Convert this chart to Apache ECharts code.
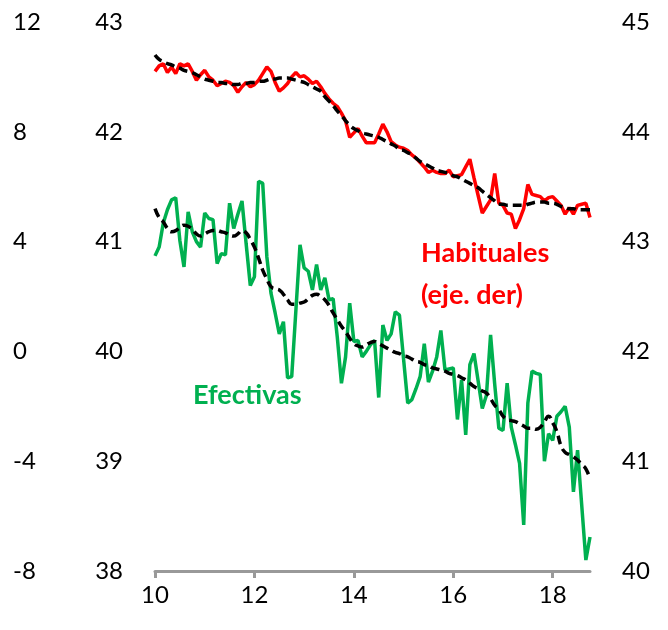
<!DOCTYPE html>
<html>
<head>
<meta charset="utf-8">
<script src="https://cdn.jsdelivr.net/npm/echarts@6/dist/echarts.min.js"></script>
<style>
  html, body { margin: 0; padding: 0; background: #fff; }
  #chart { width: 668px; height: 630px; }
</style>
</head>
<body>
<div id="chart"></div>
<script>
  // monthly data, Jan 2010 onwards
  var startYear = 2010;

  // horas efectivas (eje izq. 38-43)
  var efectivas = [
    40.87, 40.95, 41.17, 41.29, 41.38, 41.40, 41.01, 40.77, 41.27, 41.09,
    41.00, 40.95, 41.26, 41.21, 41.20, 40.80, 40.89, 40.88, 41.35, 41.12,
    41.25, 41.37, 40.98, 40.60, 40.68, 41.55, 41.53, 40.86, 40.53, 40.35,
    40.16, 40.27, 39.76, 39.77, 40.37, 40.97, 40.76, 40.73, 40.56, 40.79,
    40.56, 40.67, 40.47, 40.48, 40.13, 39.71, 39.95, 40.44, 40.09, 40.10,
    39.95, 40.00, 40.06, 40.10, 39.58, 40.24, 40.10, 40.16, 40.36, 40.33,
    39.93, 39.53, 39.56, 39.66, 39.77, 40.07, 39.72, 39.82, 39.95, 40.19,
    39.83, 39.84, 39.85, 39.38, 39.74, 39.24, 39.88, 39.98, 39.73, 39.48,
    39.60, 40.15, 39.70, 39.30, 39.28, 39.71, 39.31, 39.15, 38.98, 38.42,
    39.53, 39.82, 39.80, 39.79, 39.00, 39.25, 39.19, 39.41, 39.45, 39.50,
    39.31, 38.72, 39.10, 38.60, 38.10, 38.31
  ];
  var efectivasTend = [
    41.30, 41.22, 41.18, 41.12, 41.09, 41.10, 41.13, 41.15, 41.14, 41.11,
    41.07, 41.05, 41.07, 41.09, 41.10, 41.10, 41.09, 41.08, 41.06, 41.05,
    41.07, 41.10, 41.08, 41.02, 40.95, 40.85, 40.74, 40.66, 40.59, 40.57,
    40.56, 40.52, 40.47, 40.43, 40.43, 40.44, 40.45, 40.48, 40.51, 40.52,
    40.50, 40.47, 40.42, 40.35, 40.29, 40.23, 40.18, 40.12, 40.07, 40.05,
    40.04, 40.06, 40.08, 40.09, 40.07, 40.05, 40.03, 40.01, 39.99, 39.98,
    39.96, 39.95, 39.93, 39.91, 39.90, 39.88, 39.87, 39.85, 39.84, 39.83,
    39.82, 39.80, 39.79, 39.78, 39.76, 39.74, 39.71, 39.68, 39.66, 39.64,
    39.62, 39.57, 39.51, 39.47, 39.41, 39.38, 39.37, 39.36, 39.34, 39.32,
    39.30, 39.30, 39.29, 39.31, 39.36, 39.41, 39.35, 39.27, 39.14, 39.08,
    39.06, 39.04, 39.01, 38.97, 38.93, 38.84
  ];

  // horas habituales (eje der. 40-45)
  var habituales = [
    44.55, 44.60, 44.62, 44.54, 44.59, 44.53, 44.62, 44.60, 44.62, 44.55,
    44.47, 44.52, 44.56, 44.50, 44.47, 44.42, 44.44, 44.46, 44.45, 44.42,
    44.36, 44.41, 44.45, 44.41, 44.43, 44.47, 44.53, 44.59, 44.55, 44.45,
    44.37, 44.40, 44.44, 44.50, 44.54, 44.50, 44.51, 44.48, 44.44, 44.46,
    44.41, 44.35, 44.30, 44.26, 44.23, 44.17, 44.10, 43.95, 43.99, 44.03,
    43.96, 43.90, 43.90, 43.90, 43.98, 44.07, 44.00, 43.91, 43.88, 43.86,
    43.85, 43.83, 43.79, 43.76, 43.72, 43.68, 43.63, 43.65, 43.63, 43.62,
    43.62, 43.65, 43.59, 43.60, 43.61, 43.68, 43.75, 43.58, 43.42, 43.26,
    43.32, 43.38, 43.62, 43.35, 43.33, 43.26, 43.25, 43.12, 43.20, 43.30,
    43.52, 43.43, 43.42, 43.41, 43.37, 43.40, 43.41, 43.37, 43.33, 43.25,
    43.31, 43.25, 43.33, 43.34, 43.35, 43.22
  ];
  var habitualesTend = [
    44.70, 44.66, 44.64, 44.62, 44.61, 44.59, 44.58, 44.56, 44.55, 44.54,
    44.52, 44.50, 44.48, 44.47, 44.46, 44.45, 44.45, 44.44, 44.44, 44.43,
    44.43, 44.44, 44.44, 44.45, 44.45, 44.46, 44.46, 44.47, 44.48, 44.48,
    44.49, 44.49, 44.49, 44.48, 44.47, 44.46, 44.45, 44.43, 44.41, 44.39,
    44.37, 44.32, 44.28, 44.24, 44.19, 44.15, 44.10, 44.06, 44.03, 44.01,
    43.99, 43.98, 43.97, 43.96, 43.95, 43.93, 43.91, 43.89, 43.87, 43.84,
    43.83, 43.81, 43.79, 43.76, 43.73, 43.71, 43.69, 43.67, 43.65, 43.64,
    43.63, 43.62, 43.60, 43.59, 43.57, 43.55, 43.53, 43.51, 43.49, 43.46,
    43.43, 43.40, 43.37, 43.34, 43.34, 43.33, 43.33, 43.33, 43.33, 43.33,
    43.34, 43.35, 43.36, 43.36, 43.36, 43.35, 43.35, 43.34, 43.32, 43.31,
    43.30, 43.30, 43.29, 43.29, 43.29, 43.29
  ];

  var xTickLabels = ['10', '12', '14', '16', '18'];

  function toPairs(arr) {
    return arr.map(function (v, i) { return [startYear + i / 12, v]; });
  }

  var font = 'Lato, "Open Sans", sans-serif';
  var chart = echarts.init(document.getElementById('chart'));

  chart.setOption({
    animation: false,
    backgroundColor: '#fff',
    grid: { left: 155, right: 78, top: 22, bottom: 59 },
    xAxis: {
      type: 'value',
      min: startYear,
      max: startYear + (efectivas.length - 1) / 12,
      interval: 2,
      splitLine: { show: false },
      axisLine: { onZero: false, lineStyle: { color: '#999', width: 3 } },
      axisTick: { show: true, length: 7, lineStyle: { color: '#999', width: 3 } },
      axisLabel: {
        color: '#000', fontSize: 24, fontFamily: font, margin: 12,
        showMaxLabel: false,
        formatter: function (v) { return xTickLabels[(v - startYear) / 2] || ''; }
      }
    },
    yAxis: [
      {
        type: 'value', position: 'left', min: 38, max: 43, interval: 1,
        splitLine: { show: false }, axisLine: { show: false }, axisTick: { show: false },
        axisLabel: { color: '#000', fontSize: 24, fontFamily: font, margin: 32 }
      },
      {
        type: 'value', position: 'right', min: 40, max: 45, interval: 1,
        splitLine: { show: false }, axisLine: { show: false }, axisTick: { show: false },
        axisLabel: { color: '#000', fontSize: 24, fontFamily: font, margin: 32, align: 'left' }
      },
      {
        type: 'value', position: 'left', min: -8, max: 12, interval: 4,
        splitLine: { show: false }, axisLine: { show: false }, axisTick: { show: false },
        axisLabel: { color: '#000', fontSize: 24, fontFamily: font, margin: 142, align: 'left' }
      }
    ],
    series: [
      {
        name: 'Efectivas', type: 'line', yAxisIndex: 0, data: toPairs(efectivas),
        showSymbol: false, lineStyle: { color: '#00b050', width: 3.5 }
      },
      {
        name: 'Habituales', type: 'line', yAxisIndex: 1, data: toPairs(habituales),
        showSymbol: false, lineStyle: { color: '#ff0000', width: 3.5 }
      },
      {
        name: 'Efectivas tendencia', type: 'line', yAxisIndex: 0, data: toPairs(efectivasTend),
        showSymbol: false, smooth: true,
        lineStyle: { color: '#000', width: 3.5, type: [9, 5] }
      },
      {
        name: 'Habituales tendencia', type: 'line', yAxisIndex: 1, data: toPairs(habitualesTend),
        showSymbol: false, smooth: true,
        lineStyle: { color: '#000', width: 3.5, type: [9, 5] }
      }
    ],
    graphic: [
      {
        type: 'text', left: 421, top: 240,
        style: { text: 'Habituales', fill: '#ff0000', font: 'bold 27px ' + font }
      },
      {
        type: 'text', left: 421, top: 282,
        style: { text: '(eje. der)', fill: '#ff0000', font: 'bold 27px ' + font }
      },
      {
        type: 'text', left: 193, top: 382,
        style: { text: 'Efectivas', fill: '#00b050', font: 'bold 27px ' + font }
      }
    ]
  });
</script>
</body>
</html>
